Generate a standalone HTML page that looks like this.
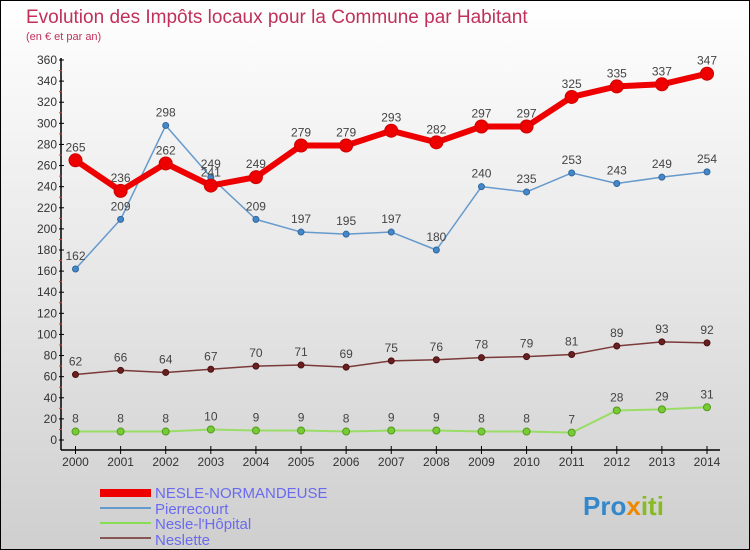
<!DOCTYPE html>
<html><head><meta charset="utf-8"><style>
body{margin:0;width:750px;height:550px;overflow:hidden;font-family:"Liberation Sans",sans-serif}
svg{display:block}
</style></head><body>
<svg id="c" width="750" height="550" xmlns="http://www.w3.org/2000/svg">
<defs><linearGradient id="bg" x1="0" y1="0" x2="0" y2="1"><stop offset="0" stop-color="#ffffff"/><stop offset="1" stop-color="#cfcfcf"/></linearGradient></defs>
<rect x="0.5" y="0.5" width="749" height="549" fill="url(#bg)" stroke="#000"/>
<text x="26" y="23" font-size="19" fill="#c0305a">Evolution des Impôts locaux pour la Commune par Habitant</text>
<text x="26" y="40" font-size="11" fill="#c0305a">(en € et par an)</text>
<g id="axes"></g><g id="series"></g>
<g>
<rect x="100" y="489" width="51" height="8" fill="#e00"/>
<text x="155" y="498" font-size="15" fill="#6a6af0">NESLE-NORMANDEUSE</text>
<rect x="100" y="507" width="51" height="2" fill="#6699cc"/>
<text x="155" y="514" font-size="15" fill="#6a6af0">Pierrecourt</text>
<rect x="100" y="522" width="51" height="2" fill="#88dd55"/>
<text x="155" y="529" font-size="15" fill="#6a6af0">Nesle-l'Hôpital</text>
<rect x="100" y="537" width="51" height="2" fill="#885555"/>
<text x="155" y="545" font-size="15" fill="#6a6af0">Neslette</text>
</g>
<g><text x="583" y="515" font-size="26" font-weight="bold" fill="#3388cc">Pro<tspan fill="#ee8800">x</tspan><tspan fill="#88bb22">iti</tspan></text></g>
</svg>
<script>
const years=[2000,2001,2002,2003,2004,2005,2006,2007,2008,2009,2010,2011,2012,2013,2014];
const yTicks=[0,20,40,60,80,100,120,140,160,180,200,220,240,260,280,300,320,340,360];
const nesleNormandeuse=[265,236,262,241,249,279,279,293,282,297,297,325,335,337,347];
const pierrecourt=[162,209,298,249,209,197,195,197,180,240,235,253,243,249,254];
const nesleHopital=[8,8,8,10,9,9,8,9,9,8,8,7,28,29,31];
const neslette=[62,66,64,67,70,71,69,75,76,78,79,81,89,93,92];
const NS="http://www.w3.org/2000/svg";
const X=i=>75.5+i*(707-75.5)/(years.length-1);
const Y=v=>440-v*380/360;
function mk(tag,attrs,parent){const e=document.createElementNS(NS,tag);for(const k in attrs)e.setAttribute(k,attrs[k]);parent.appendChild(e);return e;}
const ax=document.getElementById('axes');
let a=mk('line',{x1:61,y1:58,x2:61,y2:450,stroke:'#000','stroke-width':1.5},ax);


a=mk('line',{x1:61,y1:450,x2:720,y2:450,stroke:'#000','stroke-width':1.5},ax);


yTicks.forEach(v=>{
  mk('line',{x1:59,x2:64,y1:Y(v),y2:Y(v),stroke:'#000'},ax);
  if(v<360)mk('line',{x1:59,x2:62,y1:Y(v+10),y2:Y(v+10),stroke:'#e33'},ax);
  const t=mk('text',{x:57,y:Y(v)+4,'font-size':12,'text-anchor':'end',fill:'#333'},ax);
  t.textContent=v;
  
  
});
years.forEach((yr,i)=>{
  mk('line',{x1:X(i),x2:X(i),y1:446,y2:454,stroke:'#000'},ax);
  const t=mk('text',{x:X(i),y:466,'font-size':12,'text-anchor':'middle',fill:'#333'},ax);
  t.textContent=yr;
  
  
});
const sg=document.getElementById('series');
function series(vals,name,color,lw,r,dot,dotStroke){
  const g=mk('g',{},sg);
  
  
  const p=mk('polyline',{points:vals.map((v,i)=>X(i)+','+Y(v)).join(' '),fill:'none',stroke:color,'stroke-width':lw,'stroke-linejoin':'round'},g);
  
  
  vals.forEach((v,i)=>{
    const c=mk('circle',{cx:X(i),cy:Y(v),r:r,fill:dot,stroke:dotStroke,'stroke-width':1},g);
    
    
    const t=mk('text',{x:X(i),y:Y(v)-9,'font-size':12,'text-anchor':'middle',fill:'#444'},g);
    t.textContent=v;
    
    
  });
}
series(neslette,'neslette','#7a3a3a',1.5,3,'#6a2020','#4a1010');
series(nesleHopital,'nesle-lhopital','#99dd66',2,3.5,'#77cc33','#559922');
series(pierrecourt,'pierrecourt','#6699cc',1.5,3,'#4488cc','#336699');
series(nesleNormandeuse,'nesle-normandeuse','#ee0000',6,6.5,'#ee0000','#cc0000');
</script>
</body></html>
